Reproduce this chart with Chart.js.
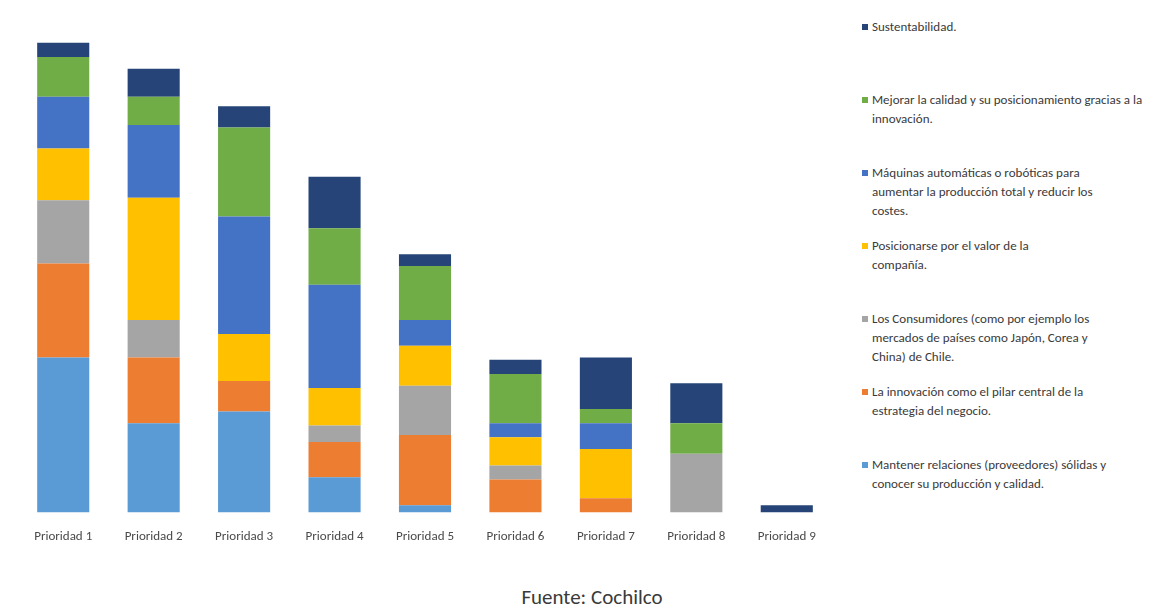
<!DOCTYPE html>
<html>
<head>
<meta charset="utf-8">
<script src="https://cdn.jsdelivr.net/npm/chart.js@4/dist/chart.umd.min.js"></script>
<style>
    html, body { margin: 0; padding: 0; background: #fff; }
    #wrap { position: relative; width: 1170px; height: 611px; font-family: Calibri, Carlito, "Liberation Sans", sans-serif; }
    #chartBox { position: absolute; left: 0; top: 0; width: 845px; height: 554px; }
    #legend { position: absolute; left: 862px; top: 0; width: 300px; }
    .item { position: absolute; left: 0; width: 300px; font-size: 13px; line-height: 19px; color: #3a3a3a; padding-left: 10px; white-space: nowrap; }
    .item .mark { position: absolute; left: 0; top: 7px; width: 6px; height: 6px; }
    #title { position: absolute; left: 0; width: 1184px; top: 584px; text-align: center; font-size: 21px; color: #3a3a3a; }
</style>
</head>
<body>
<div id="wrap">
    <div id="chartBox"><canvas id="chart"></canvas></div>
    <div id="legend"></div>
    <div id="title">Fuente: Cochilco</div>
</div>
<script>
// categories along x
const categories = ['Prioridad 1', 'Prioridad 2', 'Prioridad 3', 'Prioridad 4', 'Prioridad 5',
    'Prioridad 6', 'Prioridad 7', 'Prioridad 8', 'Prioridad 9'];

// series values, bottom of the stack first
const relaciones   = [33, 19, 21.5, 7.5, 1.5, 0, 0, 0, 0];
const innovacion   = [20, 14, 6.5, 7.5, 15, 7, 3, 0, 0];
const consumidores = [13.5, 8, 0, 3.5, 10.5, 3, 0, 12.5, 0];
const valor        = [11, 26, 10, 8, 8.5, 6, 10.5, 0, 0];
const maquinas     = [11, 15.5, 25, 22, 5.5, 3, 5.5, 0, 0];
const calidad      = [8.5, 6, 19, 12, 11.5, 10.5, 3, 6.5, 0];
const sustentab    = [3, 6, 4.5, 11, 2.5, 3, 11, 8.5, 1.5];

// legend texts (one entry per line)
const seriesNames = [
    ['Mantener relaciones (proveedores) sólidas y', 'conocer su producción y calidad.'],
    ['La innovación como el pilar central de la', 'estrategia del negocio.'],
    ['Los Consumidores (como por ejemplo los', 'mercados de países como Japón, Corea y', 'China) de Chile.'],
    ['Posicionarse por el valor de la', 'compañía.'],
    ['Máquinas automáticas o robóticas para', 'aumentar la producción total y reducir los', 'costes.'],
    ['Mejorar la calidad y su posicionamiento gracias a la', 'innovación.'],
    ['Sustentabilidad.']
];

const colors = ['#5b9bd5', '#ed7d31', '#a5a5a5', '#ffc000', '#4472c4', '#70ad47', '#264478'];
const values = [relaciones, innovacion, consumidores, valor, maquinas, calidad, sustentab];

const datasets = values.map((v, i) => ({
    label: seriesNames[i].join(' '),
    data: v,
    backgroundColor: colors[i],
    borderWidth: 0,
    categoryPercentage: 0.8,
    barPercentage: 0.72,
}));

new Chart(document.getElementById('chart'), {
    type: 'bar',
    data: {
        labels: categories,
        datasets: datasets
    },
    options: {
        responsive: true,
        maintainAspectRatio: false,
        animation: false,
        layout: {
            padding: { left: 18, right: 13, top: 10, bottom: 0 }
        },
        plugins: {
            legend: { display: false },
            tooltip: { enabled: false }
        },
        scales: {
            x: {
                stacked: true,
                grid: { display: false },
                border: { display: false },
                ticks: {
                    color: '#4a4a4a',
                    font: { size: 13, family: 'Calibri, Carlito, "Liberation Sans", sans-serif' },
                    padding: 9
                }
            },
            y: {
                stacked: true,
                display: false,
                min: 0,
                max: 107
            }
        }
    }
});

// legend on the right, last series on top
const legend = document.getElementById('legend');
for (let k = 0; k < seriesNames.length; k++) {
    const i = seriesNames.length - 1 - k;
    const div = document.createElement('div');
    div.className = 'item';
    div.style.top = (17 + k * 73) + 'px';
    const mark = document.createElement('span');
    mark.className = 'mark';
    mark.style.background = colors[i];
    div.appendChild(mark);
    div.innerHTML += seriesNames[i].join('<br>');
    legend.appendChild(div);
}
</script>
</body>
</html>
